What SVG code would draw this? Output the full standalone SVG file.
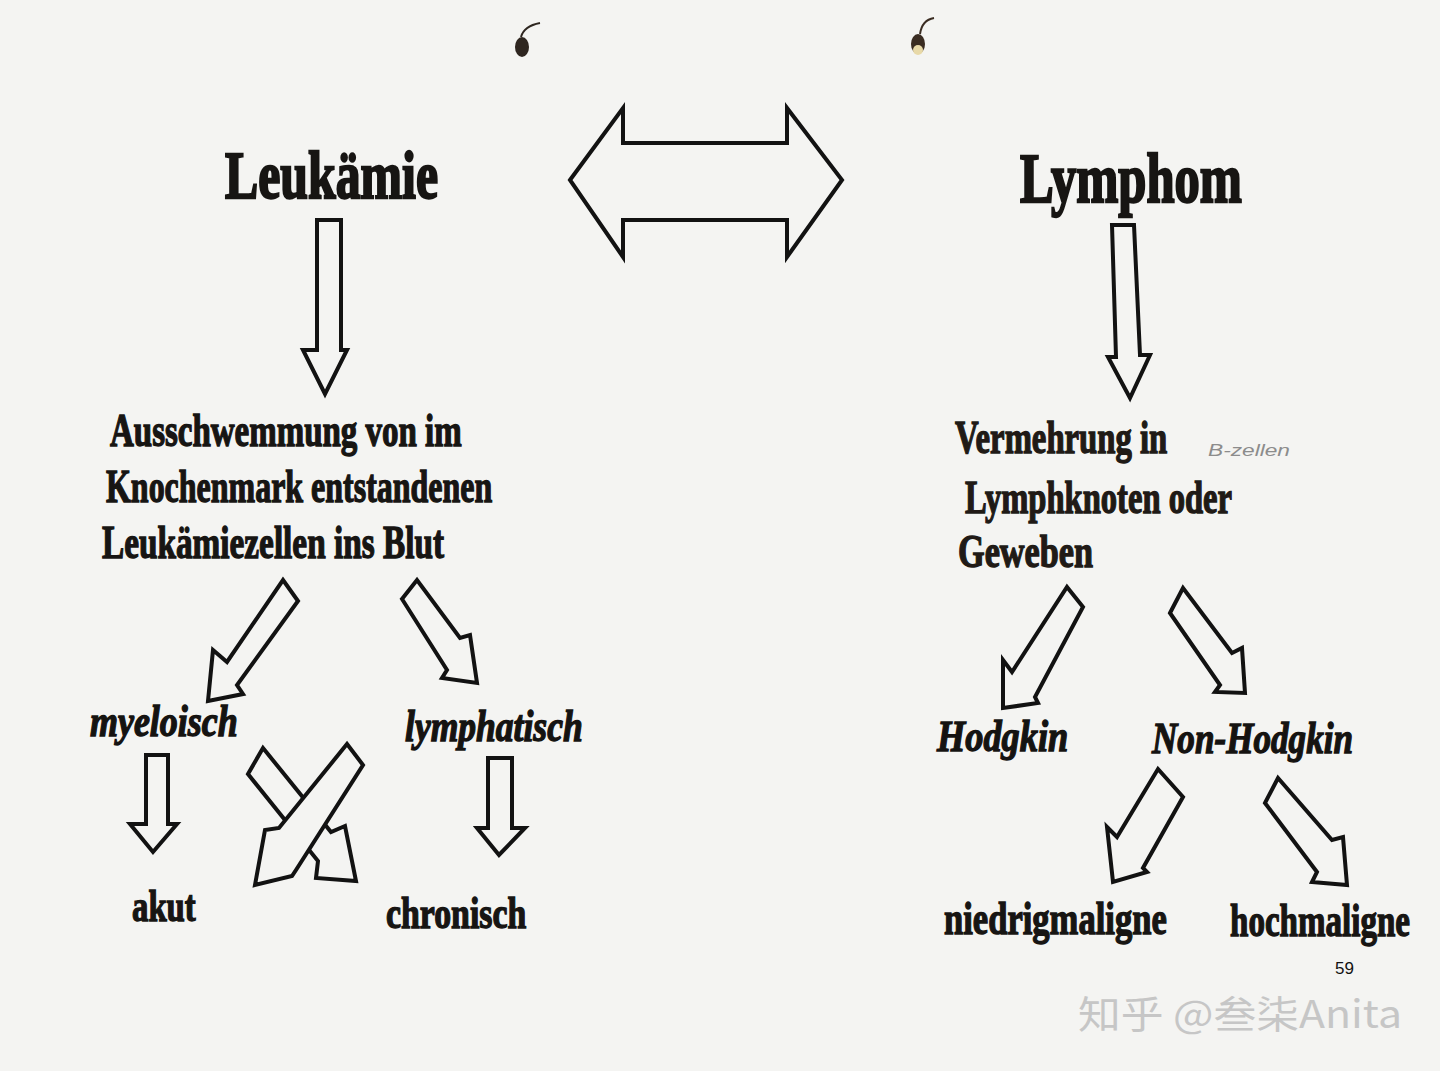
<svg xmlns="http://www.w3.org/2000/svg" width="1440" height="1071" viewBox="0 0 1440 1071">
<style>
.t{font-family:"Liberation Serif","Times New Roman",serif;font-weight:bold;fill:#171513;stroke:#171513;stroke-width:1.4}
.ti{font-family:"Liberation Serif","Times New Roman",serif;font-weight:bold;font-style:italic;fill:#151311;stroke:#151311;stroke-width:1.4}
.big{stroke-width:2.4}
.br{fill:#201a16;stroke:#201a16}
.arr{fill:#f4f4f2;stroke:#121212;stroke-width:4;stroke-linejoin:miter}
</style>
<rect x="0" y="0" width="1440" height="1071" fill="#f4f4f2"/>
<g id="punch-holes">
<ellipse cx="522" cy="47" rx="7" ry="10" fill="#2e2620"/>
<path d="M521 37 Q524 26 540 23" fill="none" stroke="#2e2620" stroke-width="2"/>
<ellipse cx="918" cy="44" rx="7" ry="10" fill="#3a2c22"/>
<ellipse cx="918" cy="50" rx="5" ry="5" fill="#e8d9a8"/>
<path d="M920 34 Q922 20 934 18" fill="none" stroke="#3a2c22" stroke-width="2"/>
</g>
<g id="connectors">
<polygon id="double-arrow" class="arr" points="570,180 623,108 623,143 787,143 787,108 842,180 787,257 787,220 623,220 623,257"/>
<polygon id="a-leuk-down" class="arr" points="317,220 341,220 341,350 347,350 325,394 303,350 317,350"/>
<polygon id="a-lymph-down" class="arr" points="1112,225 1134,225 1140,355 1150,355 1130,398 1108,357 1116,357"/>
<polygon id="a-myel" class="arr" points="283,580 298,601 237,685 243,694 208,701 213,650 227,662"/>
<polygon id="a-lymphat" class="arr" points="402,599 417,580 460,638 470,635 477,683 442,678 447,670"/>
<polygon id="a-myel-akut" class="arr" points="146,755 168,755 168,824 177,824 153,852 130,824 146,824"/>
<polygon id="a-lymphat-chron" class="arr" points="488,758 512,758 512,828 525,828 499,855 477,828 488,828"/>
<polygon id="a-cross-e" class="arr" points="248,774 263,748 331,832 345,826 356,881 316,878 318,861"/>
<polygon id="a-cross-f" class="arr" points="347,744 363,765 296,870 292,876 255,885 265,830 279,828"/>
<polygon id="a-hodgkin" class="arr" points="1067,587 1083,607 1035,697 1038,703 1003,708 1003,660 1012,672"/>
<polygon id="a-nonhodgkin" class="arr" points="1170,613 1183,588 1232,653 1242,648 1245,693 1215,692 1220,685"/>
<polygon id="a-niedrig" class="arr" points="1158,769 1183,797 1143,868 1147,872 1113,882 1107,827 1117,837"/>
<polygon id="a-hoch" class="arr" points="1265,803 1278,778 1332,840 1343,837 1347,885 1312,882 1317,872"/>
</g>
<g id="leukaemie"><text class="t big" transform="translate(225,198) scale(0.75,1)" font-size="68" textLength="284" lengthAdjust="spacingAndGlyphs">Leukämie</text></g>
<g id="lymphom"><text class="t big" transform="translate(1020,202) scale(0.75,1)" font-size="70" textLength="296" lengthAdjust="spacingAndGlyphs" fill="#2a1f18" stroke="#2a1f18">Lymphom</text></g>
<g id="leuk-desc">
<text class="t" transform="translate(110,446) scale(0.75,1)" font-size="46" textLength="469" lengthAdjust="spacingAndGlyphs">Ausschwemmung von im</text>
<text class="t" transform="translate(106,502) scale(0.75,1)" font-size="46" textLength="515" lengthAdjust="spacingAndGlyphs">Knochenmark entstandenen</text>
<text class="t" transform="translate(102,558) scale(0.75,1)" font-size="46" textLength="456" lengthAdjust="spacingAndGlyphs">Leukämiezellen ins Blut</text>
</g>
<g id="lymph-desc">
<text class="t br" transform="translate(955,453) scale(0.75,1)" font-size="46" textLength="283" lengthAdjust="spacingAndGlyphs">Vermehrung in</text>
<text class="t br" transform="translate(965,513) scale(0.75,1)" font-size="46" textLength="356" lengthAdjust="spacingAndGlyphs">Lymphknoten oder</text>
<text class="t br" transform="translate(958,567) scale(0.75,1)" font-size="46" textLength="180" lengthAdjust="spacingAndGlyphs">Geweben</text>
</g>
<g id="handnote"><text x="1208" y="456" font-family="'Liberation Sans',sans-serif" font-style="italic" font-size="17" fill="#8c8c8c" textLength="82" lengthAdjust="spacingAndGlyphs">B-zellen</text></g>
<g id="myeloisch"><text class="ti" transform="translate(90,736) scale(0.75,1)" font-size="44" textLength="197" lengthAdjust="spacingAndGlyphs">myeloisch</text></g>
<g id="lymphatisch"><text class="ti" transform="translate(405,741) scale(0.75,1)" font-size="44" textLength="237" lengthAdjust="spacingAndGlyphs">lymphatisch</text></g>
<g id="akut"><text class="t" transform="translate(132,921) scale(0.75,1)" font-size="44" textLength="85" lengthAdjust="spacingAndGlyphs">akut</text></g>
<g id="chronisch"><text class="t" transform="translate(386,928) scale(0.75,1)" font-size="44" textLength="187" lengthAdjust="spacingAndGlyphs">chronisch</text></g>
<g id="hodgkin"><text class="ti" transform="translate(937,751) scale(0.75,1)" font-size="45" textLength="175" lengthAdjust="spacingAndGlyphs">Hodgkin</text></g>
<g id="non-hodgkin"><text class="ti" transform="translate(1152,753) scale(0.75,1)" font-size="45" textLength="268" lengthAdjust="spacingAndGlyphs">Non-Hodgkin</text></g>
<g id="niedrigmaligne"><text class="t" transform="translate(944,934) scale(0.75,1)" font-size="46" textLength="297" lengthAdjust="spacingAndGlyphs">niedrigmaligne</text></g>
<g id="hochmaligne"><text class="t" transform="translate(1230,936) scale(0.75,1)" font-size="46" textLength="240" lengthAdjust="spacingAndGlyphs">hochmaligne</text></g>
<g id="page-number"><text x="1335" y="974" font-family="'Liberation Sans',Arial,sans-serif" font-size="17" fill="#111">59</text></g>
<g id="watermark"><text x="1078" y="1028" font-family="'Noto Sans CJK SC','Noto Sans',sans-serif" font-size="38" fill="#c6c6c6" textLength="324" lengthAdjust="spacingAndGlyphs">知乎 @叁柒Anita</text></g>
</svg>
